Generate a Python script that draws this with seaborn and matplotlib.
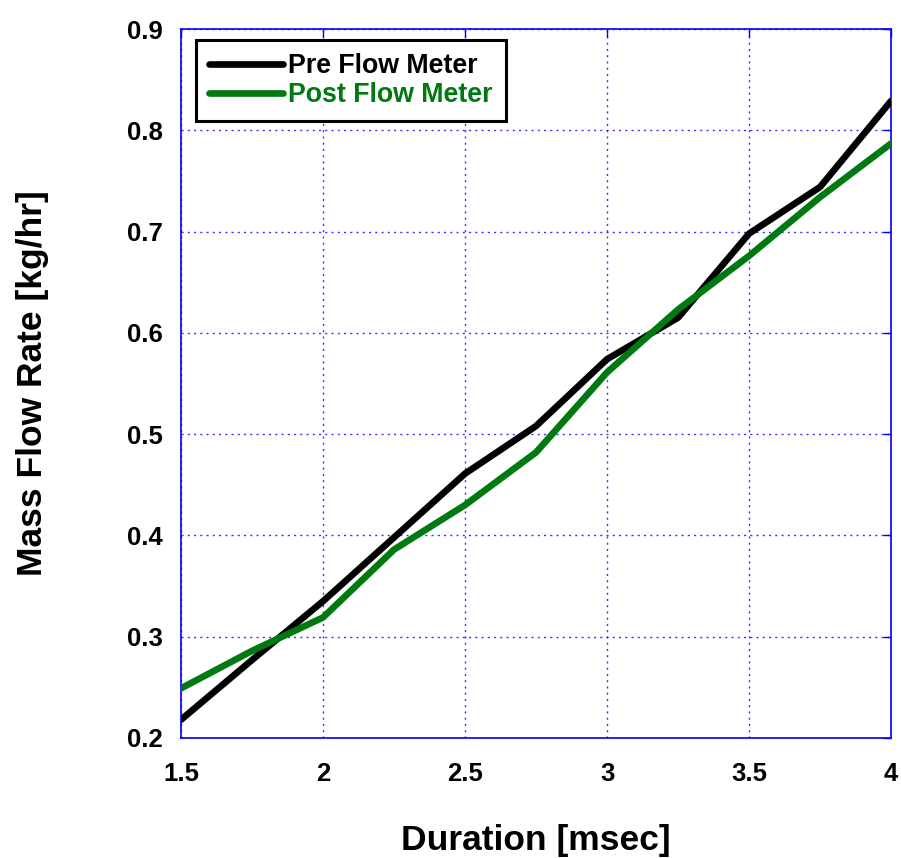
import matplotlib
matplotlib.use("Agg")
import matplotlib.pyplot as plt
import seaborn as sns
import pandas as pd

# Injection duration and measured mass flow rates
duration = [1.5, 1.75, 2.0, 2.25, 2.5, 2.75, 3.0, 3.25, 3.5, 3.75, 4.0]
pre_flow = [0.218, 0.277, 0.335, 0.398, 0.461, 0.508, 0.574, 0.615, 0.698, 0.744, 0.829]
post_flow = [0.249, 0.286, 0.319, 0.386, 0.430, 0.482, 0.561, 0.623, 0.676, 0.734, 0.787]
series_names = ["Pre Flow Meter", "Post Flow Meter"]
series_colors = ["#000000", "#007a10"]
x_ticks = [1.5, 2, 2.5, 3, 3.5, 4]
x_tick_labels = ["1.5", "2", "2.5", "3", "3.5", "4"]
y_ticks = [0.2, 0.3, 0.4, 0.5, 0.6, 0.7, 0.8, 0.9]
y_tick_labels = ["0.2", "0.3", "0.4", "0.5", "0.6", "0.7", "0.8", "0.9"]

sns.set_theme(style="white")
plt.rcParams["font.family"] = ["Liberation Sans", "DejaVu Sans"]
plt.rcParams["text.color"] = "black"
plt.rcParams["axes.labelcolor"] = "black"

df = pd.DataFrame({
    "Duration": duration * 2,
    "Flow": pre_flow + post_flow,
    "Series": [series_names[0]] * len(duration) + [series_names[1]] * len(duration),
})

fig = plt.figure(figsize=(9.01, 8.58), dpi=100)
ax = fig.add_axes([0.2009, 0.1399, 0.7881, 0.8263])

sns.lineplot(data=df, x="Duration", y="Flow", hue="Series",
             palette=dict(zip(series_names, series_colors)),
             linewidth=4.8, ax=ax, legend=False, zorder=3)

ax.set_xlim(1.5, 4.0)
ax.set_ylim(0.2, 0.9)
ax.set_xticks(x_ticks)
ax.set_xticklabels(x_tick_labels, fontweight="bold", fontsize=18.5)
ax.set_yticks(y_ticks)
ax.set_yticklabels(y_tick_labels, fontweight="bold", fontsize=18.5)

ax.grid(True, color="#0000ff", linestyle=(0, (1.5, 3.0)), linewidth=1.0, alpha=0.8)
for s in ax.spines.values():
    s.set_color("#0000ff")
    s.set_linewidth(1.2)
ax.tick_params(direction="in", length=6, width=1, color="#0000ff",
               top=True, right=True, labelcolor="black")
ax.tick_params(axis="x", pad=17)
ax.tick_params(axis="y", pad=13)

ax.set_xlabel("Duration [msec]", fontweight="bold", fontsize=25.5,
              labelpad=28, color="black")
ax.set_ylabel("Mass Flow Rate [kg/hr]", fontweight="bold", fontsize=25.5,
              labelpad=56, color="black")

handles = [plt.Line2D([], [], color=c, linewidth=4.8) for c in series_colors]
leg = ax.legend(handles, series_names, loc="upper left",
                bbox_to_anchor=(0.021, 0.9845), borderaxespad=0,
                frameon=True, fancybox=False,
                prop={"weight": "bold", "size": 19.3}, handlelength=2.75,
                handletextpad=0.2, borderpad=0.5, labelspacing=0.1)
leg.get_frame().set_edgecolor("black")
leg.get_frame().set_linewidth(2.2)
leg.get_frame().set_alpha(1)
for t, c in zip(leg.get_texts(), series_colors):
    t.set_color(c)

fig.savefig("out.png", dpi=100)
